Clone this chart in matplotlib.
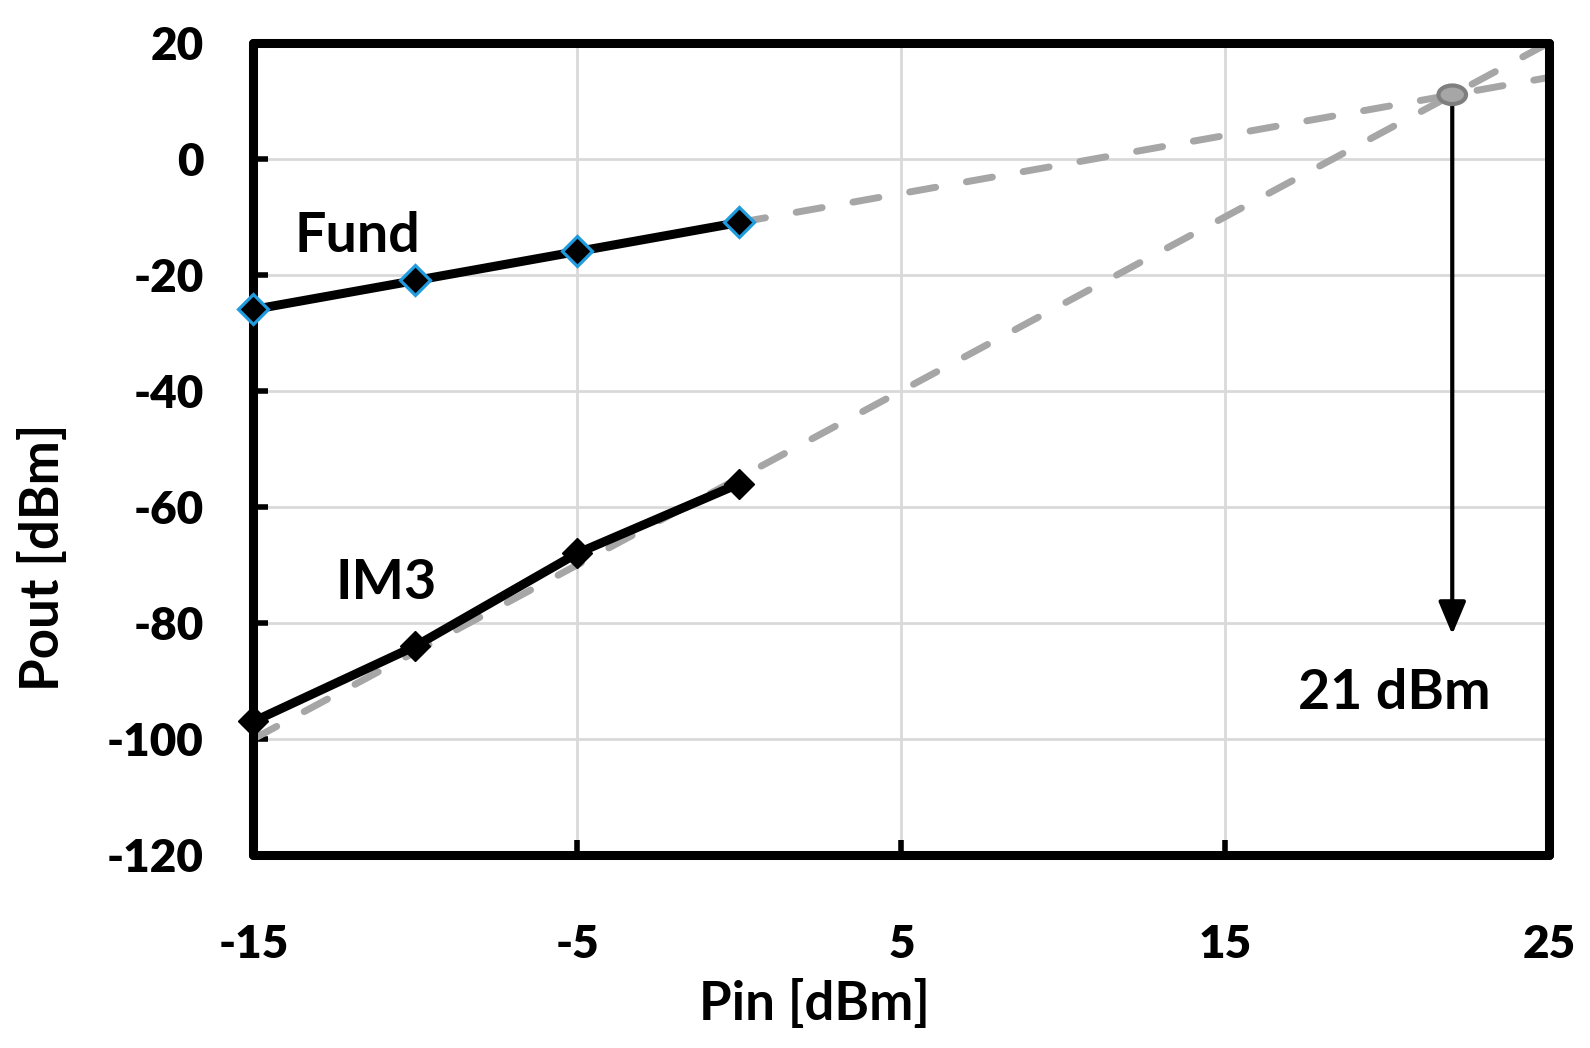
"""
Two-tone test: fundamental and IM3 output power vs input power,
with extrapolated trend lines meeting at the third-order intercept.
"""

import matplotlib.pyplot as plt
from matplotlib.patches import Ellipse

# --- Style ---
BLACK = "#000000"
GRID = "#d9d9d9"
TREND = "#a6a6a6"
TREND_DARK = "#7f7f7f"
BLUE_EDGE = "#1f9bde"
FONT = "Lato"

# --- Data ---
pin = [-15, -10, -5, 0]
fund_pout = [-26, -21, -16, -11]
im3_pout = [-97, -84, -68, -56]

fund_trend_pin = [0, 25]
fund_trend_pout = [-11, 14]
im3_trend_pin = [-15, 25]
im3_trend_pout = [-100, 20]

iip3_pin = 22
iip3_pout = 11
arrow_end_pout = -82

x_ticks = [-15, -5, 5, 15, 25]
y_ticks = [20, 0, -20, -40, -60, -80, -100, -120]

# ---------------------------------------------------------------------------
fig = plt.figure(figsize=(15.9, 10.48), dpi=100, facecolor="white")
ax = fig.add_axes([0.1594, 0.1842, 0.8151, 0.7752])

ax.set_xlim(-15, 25)
ax.set_ylim(-120, 20)
ax.set_xticks(x_ticks)
ax.set_yticks(y_ticks)
ax.set_xticklabels([str(v) for v in x_ticks])
ax.set_yticklabels([str(v) for v in y_ticks])

ax.grid(True, color=GRID, linewidth=2.0)
ax.set_axisbelow(True)

for spine in ax.spines.values():
    spine.set_linewidth(6.5)
    spine.set_color(BLACK)
    spine.set_capstyle("round")

ax.tick_params(direction="in", length=11, width=4, color=BLACK,
               top=False, right=False)
ax.tick_params(axis="x", pad=50)
ax.tick_params(axis="y", pad=36)
for lbl in ax.get_xticklabels() + ax.get_yticklabels():
    lbl.set_fontfamily(FONT)
    lbl.set_fontweight("heavy")
    lbl.set_fontsize(33)

# Extrapolated trend lines (dashed grey)
for tx, ty in [(fund_trend_pin, fund_trend_pout), (im3_trend_pin, im3_trend_pout)]:
    ln, = ax.plot(tx, ty, color=TREND, linewidth=5, zorder=2,
                  dash_capstyle="round", clip_on=False)
    ln.set_dashes((3.8, 4.5))

# Measured data
ax.plot(pin, fund_pout, color=BLACK, linewidth=6.5, marker="D", markersize=15.5,
        markerfacecolor=BLACK, markeredgecolor=BLUE_EDGE, markeredgewidth=2.3,
        zorder=4, clip_on=False)
ax.plot(pin, im3_pout, color=BLACK, linewidth=6.5, marker="D", markersize=15.5,
        markerfacecolor=BLACK, markeredgecolor=BLACK, markeredgewidth=1,
        zorder=4, clip_on=False)

# Intercept point
ax.add_patch(Ellipse((iip3_pin, iip3_pout), 0.85, 3.2, facecolor=TREND,
                     edgecolor=TREND_DARK, linewidth=3, zorder=5))
ax.annotate("", xy=(iip3_pin, arrow_end_pout), xytext=(iip3_pin, iip3_pout - 1.6),
            arrowprops=dict(arrowstyle="-|>,head_length=1.0,head_width=0.42",
                            mutation_scale=20, color=BLACK, lw=3,
                            shrinkA=0, shrinkB=0),
            zorder=4)

# Text labels
ax.text(-11.8, -13.4, "Fund", fontsize=40, fontweight="bold", family=FONT,
        ha="center", va="center")
ax.text(-10.9, -73.2, "IM3", fontsize=40, fontweight="bold", family=FONT,
        ha="center", va="center")
ax.text(20.2, -92.1, "21 dBm", fontsize=40, fontweight="bold", family=FONT,
        ha="center", va="center")

ax.set_xlabel("Pin [dBm]", fontsize=38, fontweight="bold", family=FONT)
ax.xaxis.label.set_va("center")
ax.xaxis.set_label_coords(0.4325, -0.183)
ax.set_ylabel("Pout [dBm]", fontsize=38, fontweight="bold", family=FONT)
ax.yaxis.label.set_va("center")
ax.yaxis.set_label_coords(-0.162, 0.366)

fig.savefig("out.png", dpi=100, facecolor="white")
